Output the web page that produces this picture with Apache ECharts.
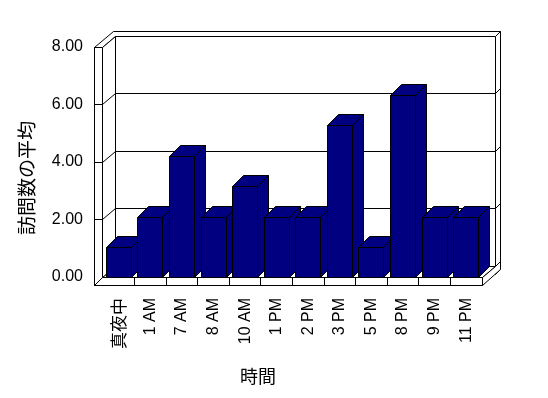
<!DOCTYPE html>
<html><head><meta charset="utf-8">
<script src="https://cdn.jsdelivr.net/npm/echarts@6/dist/echarts.min.js"></script>
<style>html,body{margin:0;padding:0;background:#fff}#c{width:548px;height:398px}</style>
</head><body><div id="c"></div>
<script>
// ---- data ----
const categories = ['真夜中', '1 AM', '7 AM', '8 AM', '10 AM', '1 PM', '2 PM', '3 PM', '5 PM', '8 PM', '9 PM', '11 PM'];
const values = [1.04, 2.07, 4.2, 2.07, 3.15, 2.07, 2.07, 5.28, 1.03, 6.32, 2.07, 2.07];
const yTicks = [0, 2, 4, 6, 8];
const xTitle = '時間';
const yTitle = '訪問数の平均';

// ---- styling constants ----
const D = [13, -11];      // box depth offset (px)
const BD = [11, -11];     // bar depth offset (px)
const T = 0.45;           // back wall thickness (fraction of depth)
const WALL_W = 8;         // left wall thickness px
const FLOOR_T = 8;        // floor thickness px
const BAR_W = 25;
const NAVY = '#000080';
const YMAX = yTicks[yTicks.length - 1];

function c(v) { return Math.round(v - 0.5) + 0.5; }
function poly(pts, fill) {
  return { type: 'polygon', shape: { points: pts.map(p => [c(p[0]), c(p[1])]) },
    style: { fill: fill, stroke: '#000', lineWidth: 1 } };
}
function seg(a, b) {
  return { type: 'line', shape: { x1: c(a[0]), y1: c(a[1]), x2: c(b[0]), y2: c(b[1]) },
    style: { stroke: '#000', lineWidth: 1, fill: null } };
}
function proj(x, y, z) { return [x + z * D[0], y + z * D[1]]; }

function renderFrame(params, api) {
  const band = api.size([1, 0])[0];
  const L = api.coord([0, 0])[0] - band / 2 - 0.5;
  const R = api.coord([categories.length - 1, 0])[0] + band / 2;
  const yb = api.coord([0, 0])[1];
  const yt = api.coord([0, YMAX])[1];
  const W = WALL_W, F = FLOOR_T;
  const ch = [];
  // back wall front face
  ch.push(poly([proj(L, yt, 1), proj(R, yt, 1), proj(R, yb, 1), proj(L, yb, 1)], '#fff'));
  // back wall gridlines
  yTicks.slice(1, -1).forEach(v => {
    const y = api.coord([0, v])[1];
    ch.push(seg(proj(L, y, 1), proj(R, y, 1)));
  });
  // combined top (left wall top + back wall top)
  ch.push(poly([proj(L - W, yt, 0), proj(L, yt, 0), proj(L, yt, 1), proj(R, yt, 1),
    proj(R, yt, 1 + T), proj(L - W, yt, 1 + T)], '#fff'));
  // back wall right face
  ch.push(poly([proj(R, yt, 1), proj(R, yt, 1 + T), proj(R, yb + F, 1 + T), proj(R, yb + F, 1)], '#fff'));
  yTicks.slice(1, -1).forEach(v => {
    const y = api.coord([0, v])[1];
    ch.push(seg(proj(R, y, 1), proj(R, y, 1 + T)));
  });
  // floor top face
  ch.push(poly([proj(L, yb, 0), proj(R, yb, 0), proj(R, yb, 1), proj(L, yb, 1)], '#fff'));
  // floor right face
  ch.push(poly([proj(R, yb, 0), proj(R, yb, 1), proj(R, yb, 1 + T), proj(R, yb + F, 1 + T), proj(R, yb + F, 0)], '#fff'));
  // floor front face
  ch.push(poly([[L - W, yb], [R, yb], [R, yb + F], [L - W, yb + F]], '#fff'));
  for (let i = 1; i < categories.length; i++) {
    const x = api.coord([i, 0])[0] - band / 2;
    ch.push(seg([x, yb], [x, yb + F]));
  }
  // left wall inner face
  ch.push(poly([proj(L, yt, 0), proj(L, yt, 1), proj(L, yb, 1), proj(L, yb, 0)], '#fff'));
  // left wall front face
  ch.push(poly([[L - W, yt], [L, yt], [L, yb], [L - W, yb + F]], '#fff'));
  ch.push(seg([L - W, yb], [L - W, yb + F]));
  yTicks.slice(1, -1).forEach(v => {
    const y = api.coord([0, v])[1];
    ch.push(seg(proj(L, y, 0), proj(L, y, 1)));
    ch.push(seg([L - W, y], [L, y]));
  });
  return { type: 'group', children: ch };
}

function renderBar(params, api) {
  const cx = api.coord([api.value(0), 0])[0];
  const yb = api.coord([api.value(0), 0])[1];
  const yv = api.coord([api.value(0), api.value(1)])[1];
  const xl = cx - BAR_W / 2, xr = cx + BAR_W / 2;
  return { type: 'group', children: [
    poly([[xl, yb], [xr, yb], [xr, yv], [xl, yv]], NAVY),
    poly([[xr, yb], [xr + BD[0], yb + BD[1]], [xr + BD[0], yv + BD[1]], [xr, yv]], NAVY),
    poly([[xl, yv], [xr, yv], [xr + BD[0], yv + BD[1]], [xl + BD[0], yv + BD[1]]], NAVY)
  ] };
}

const chart = echarts.init(document.getElementById('c'), null, { renderer: 'canvas' });
chart.setOption({
  animation: false,
  backgroundColor: '#fff',
  grid: { left: 103, top: 47, width: 379, height: 230, containLabel: false },
  xAxis: {
    type: 'category', data: categories, boundaryGap: true,
    axisLine: { show: false }, axisTick: { show: false }, splitLine: { show: false },
    axisLabel: {
      rotate: 90, margin: 21, interval: 0, color: '#000',
      fontFamily: 'Liberation Sans', fontSize: 16,
      formatter: v => /[^\x00-\x7f]/.test(v) ? '{j|' + v + '}' : v,
      rich: { j: { fontFamily: 'Noto Sans CJK JP', fontSize: 17, color: '#000' } }
    }
  },
  yAxis: {
    type: 'value', min: 0, max: YMAX, interval: 2,
    axisLine: { show: false }, axisTick: { show: false }, splitLine: { show: false },
    axisLabel: { margin: 20, color: '#000', fontFamily: 'Liberation Sans', fontSize: 16,
      formatter: v => v.toFixed(2) }
  },
  graphic: [
    { type: 'text', x: 258, y: 376, style: { text: xTitle, fontFamily: 'Noto Sans CJK JP', fontSize: 18,
      fill: '#000', align: 'center', verticalAlign: 'middle', textAlign: 'center', textVerticalAlign: 'middle' } },
    { type: 'text', x: 27, y: 178, rotation: Math.PI / 2, style: { text: yTitle, fontFamily: 'Noto Sans CJK JP', fontSize: 19,
      fill: '#000', align: 'center', verticalAlign: 'middle', textAlign: 'center', textVerticalAlign: 'middle' } }
  ],
  series: [
    { type: 'custom', name: 'frame', data: [[0, 0]], renderItem: renderFrame, silent: true, z: 1 },
    { type: 'custom', name: '訪問数の平均', data: categories.map((cat, i) => [i, values[i]]),
      encode: { x: 0, y: 1 }, renderItem: renderBar, z: 2 }
  ]
});
</script></body></html>
